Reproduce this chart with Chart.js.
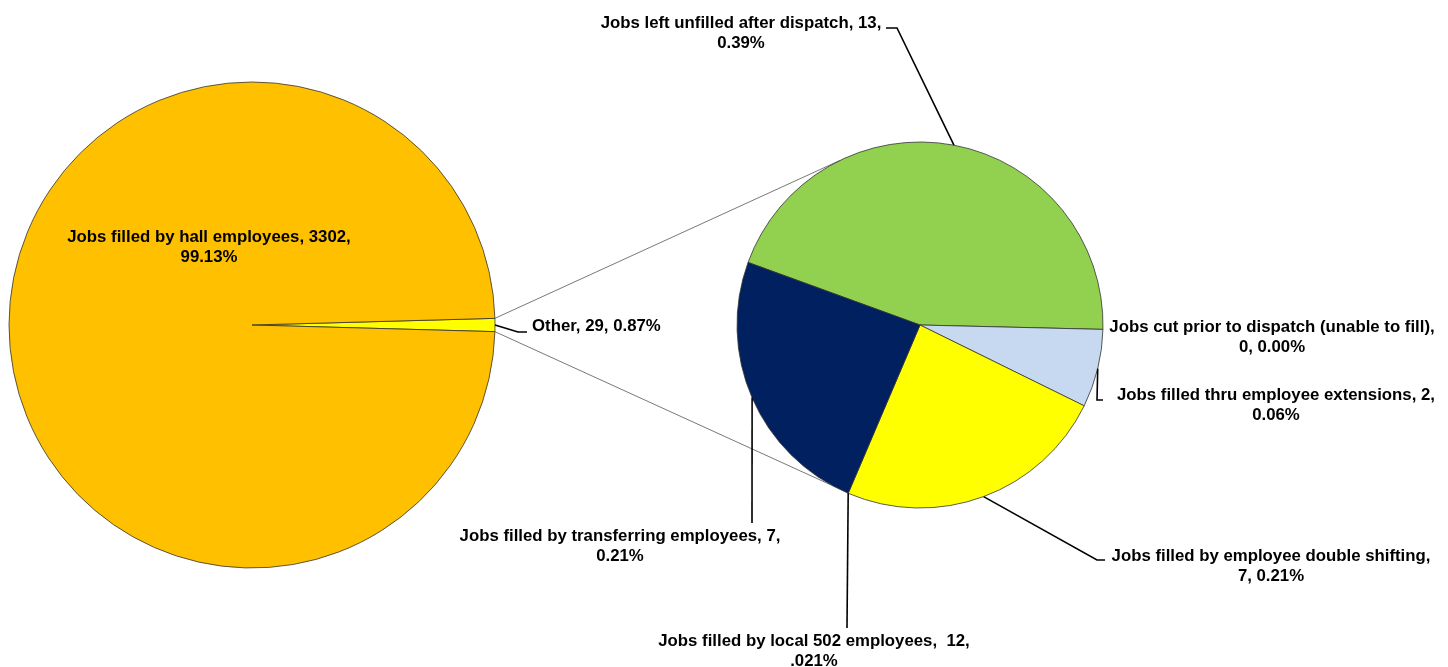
<!DOCTYPE html>
<html>
<head>
<meta charset="utf-8">
<script src="https://cdn.jsdelivr.net/npm/chart.js@4.4.1/dist/chart.umd.min.js"></script>
<style>
  html, body { margin: 0; padding: 0; background: #fff; }
  #wrap { position: relative; width: 1448px; height: 667px; }
  #wrap canvas { position: absolute; left: 0; top: 0; }
</style>
</head>
<body>
<div id="wrap">
  <canvas id="mainPie" width="1448" height="667"></canvas>
  <canvas id="otherPie" width="1448" height="667"></canvas>
</div>
<script>
// main pie
const mainCategories = ['Other', 'Jobs filled by hall employees'];
const mainValues = [29, 3302];
const mainColors = ['#FFFF00', '#FFC000'];
const mainLabelText = [
    ['Other, 29, 0.87%'],
    ['Jobs filled by hall employees, 3302,', '99.13%']
];

// breakdown of "Other"
const otherCategories = [
    'Jobs left unfilled after dispatch',
    'Jobs cut prior to dispatch (unable to fill)',
    'Jobs filled thru employee extensions',
    'Jobs filled by employee double shifting',
    'Jobs filled by local 502 employees',
    'Jobs filled by transferring employees'
];
const otherValues = [13, 0, 2, 7, 0, 7];
const otherColors = ['#92D050', '#C6D9F1', '#C6D9F1', '#FFFF00', '#002060', '#002060'];
const otherLabelText = [
    ['Jobs left unfilled after dispatch, 13,', '0.39%'],
    ['Jobs cut prior to dispatch (unable to fill),', '0, 0.00%'],
    ['Jobs filled thru employee extensions, 2,', '0.06%'],
    ['Jobs filled by employee double shifting,', '7, 0.21%'],
    ['Jobs filled by local 502 employees,  12,', '.021%'],
    ['Jobs filled by transferring employees, 7,', '0.21%']
];

// label placement (text centre x, first line y, leader elbows)
const mainLabelPos = [
    {x: 532, y: 326, align: 'left', leader: [[518, 332], [527, 332]]},
    {x: 209, y: 237, align: 'center', leader: null}
];
const otherLabelPos = [
    {x: 741, y: 23, leader: [[897, 28], [886, 28]]},
    {x: 1272, y: 327, leader: null},
    {x: 1276, y: 395, leader: [[1097, 400], [1103, 400]]},
    {x: 1271, y: 556, leader: [[1097, 560], [1105, 560]]},
    {x: 814, y: 641, leader: [[847, 628]]},
    {x: 620, y: 536, leader: [[752, 523]]}
];

const FONT = 'bold 16.8px "Liberation Sans", Arial, sans-serif';
const LINE_H = 20;

function rimPoint(arc, which) {
    const p = arc.getProps(['x', 'y', 'startAngle', 'endAngle', 'outerRadius'], true);
    let a;
    if (which === 'start') a = p.startAngle;
    else if (which === 'end') a = p.endAngle;
    else a = (p.startAngle + p.endAngle) / 2;
    return [p.x + p.outerRadius * Math.cos(a), p.y + p.outerRadius * Math.sin(a)];
}

function drawLabels(ctx, arcs, texts, layout) {
    ctx.save();
    ctx.font = FONT;
    ctx.fillStyle = '#000';
    ctx.textBaseline = 'middle';
    texts.forEach((lines, i) => {
        const pos = layout[i];
        if (pos.leader) {
            const start = rimPoint(arcs[i], 'mid');
            ctx.beginPath();
            ctx.strokeStyle = '#000';
            ctx.lineWidth = 1.6;
            ctx.moveTo(start[0], start[1]);
            pos.leader.forEach(pt => ctx.lineTo(pt[0], pt[1]));
            ctx.stroke();
        }
        ctx.textAlign = pos.align || 'center';
        lines.forEach((t, j) => ctx.fillText(t, pos.x, pos.y + j * LINE_H));
    });
    ctx.restore();
}

const sumMain = mainValues.reduce((a, b) => a + b, 0);

const mainChart = new Chart(document.getElementById('mainPie'), {
    type: 'pie',
    data: {
        labels: mainCategories,
        datasets: [{
            data: mainValues,
            backgroundColor: mainColors,
            borderColor: '#333',
            borderWidth: 0.8
        }]
    },
    options: {
        responsive: false,
        devicePixelRatio: 1,
        animation: false,
        rotation: 90 - mainValues[0] / sumMain * 180,
        radius: 243,
        layout: {padding: {left: 0, top: 0, right: 944, bottom: 17}},
        plugins: {legend: {display: false}, tooltip: {enabled: false}}
    }
});

const overlay = {
    id: 'overlay',
    afterDatasetsDraw(chart) {
        const ctx = chart.ctx;
        const bigArc = mainChart.getDatasetMeta(0).data[0];
        const small = chart.getDatasetMeta(0).data[0].getProps(['x', 'y', 'outerRadius'], true);
        const a1 = -116 * Math.PI / 180, a2 = 119 * Math.PI / 180;
        const p1 = rimPoint(bigArc, 'start'), p2 = rimPoint(bigArc, 'end');
        ctx.save();
        ctx.strokeStyle = '#555';
        ctx.lineWidth = 0.8;
        ctx.beginPath();
        ctx.moveTo(p1[0], p1[1]);
        ctx.lineTo(small.x + small.outerRadius * Math.cos(a1), small.y + small.outerRadius * Math.sin(a1));
        ctx.moveTo(p2[0], p2[1]);
        ctx.lineTo(small.x + small.outerRadius * Math.cos(a2), small.y + small.outerRadius * Math.sin(a2));
        ctx.stroke();
        ctx.restore();
    },
    afterDraw(chart) {
        drawLabels(chart.ctx, mainChart.getDatasetMeta(0).data, mainLabelText, mainLabelPos);
        drawLabels(chart.ctx, chart.getDatasetMeta(0).data, otherLabelText, otherLabelPos);
    }
};

const otherChart = new Chart(document.getElementById('otherPie'), {
    type: 'pie',
    data: {
        labels: otherCategories,
        datasets: [{
            data: otherValues,
            backgroundColor: otherColors,
            borderColor: '#333',
            borderWidth: 0.8
        }]
    },
    options: {
        responsive: false,
        devicePixelRatio: 1,
        animation: false,
        rotation: -70,
        radius: 183,
        layout: {padding: {left: 595, top: 0, right: 203, bottom: 17}},
        plugins: {legend: {display: false}, tooltip: {enabled: false}}
    },
    plugins: [overlay]
});
</script>
</body>
</html>
